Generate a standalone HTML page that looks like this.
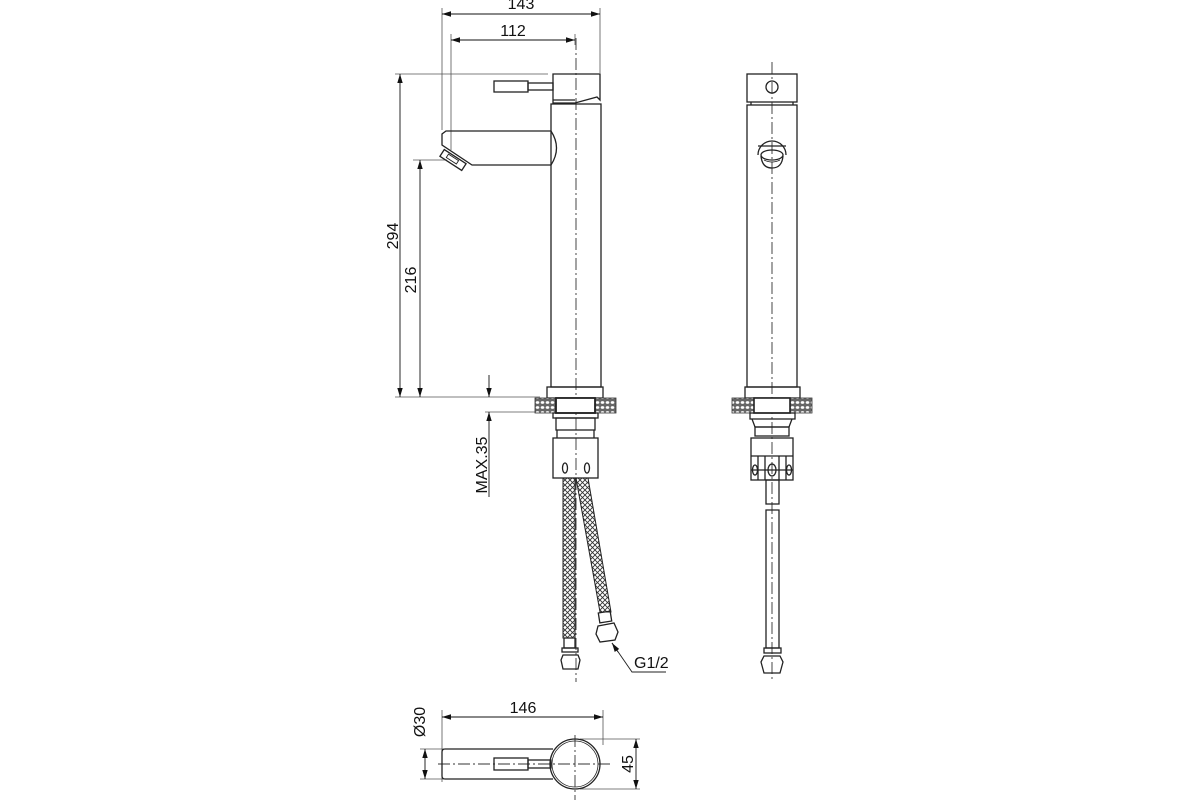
<!DOCTYPE html>
<html><head><meta charset="utf-8"><style>
html,body{margin:0;padding:0;background:#fff;width:1200px;height:800px;overflow:hidden}
svg{display:block}
text{font-family:"Liberation Sans",Arial,sans-serif;font-size:16px;fill:#111}
</style></head><body>
<svg width="1200" height="800" viewBox="0 0 1200 800" xmlns="http://www.w3.org/2000/svg">
<defs>
<marker id="a" viewBox="0 0 10 10" refX="10" refY="5" markerWidth="9" markerHeight="9" orient="auto-start-reverse" markerUnits="userSpaceOnUse"><path d="M0,2 L10,5 L0,8 Z" fill="#111"/></marker>
<pattern id="mesh" width="5" height="5" patternUnits="userSpaceOnUse"><path d="M0,0 L5,5 M5,0 L0,5" stroke="#333" stroke-width="0.9"/></pattern>
<pattern id="hatch" width="5" height="5" patternUnits="userSpaceOnUse"><rect width="5" height="5" fill="#666"/><ellipse cx="2.5" cy="2.5" rx="1.8" ry="1.4" fill="#fff"/></pattern>
</defs>
<g fill="none" stroke="#222" stroke-width="1.3">
<g stroke="#333" stroke-width="0.9" stroke-dasharray="12,3,2,3">
<line x1="576" y1="38" x2="576" y2="682"/>
<line x1="772" y1="62" x2="772" y2="682"/>
<line x1="438" y1="764" x2="612" y2="764"/>
<line x1="575" y1="735" x2="575" y2="800"/>
</g>
<g stroke="#555" stroke-width="0.8">
<line x1="442" y1="8" x2="442" y2="130"/><line x1="600" y1="8" x2="600" y2="73"/>
<line x1="451" y1="34" x2="451" y2="150"/><line x1="575" y1="34" x2="575" y2="45"/>
<line x1="395" y1="74" x2="548" y2="74"/><line x1="395" y1="397" x2="540" y2="397"/>
<line x1="413" y1="160" x2="447" y2="160"/>
<line x1="485" y1="412" x2="535" y2="412"/>
</g>
<g stroke="#111" stroke-width="0.9">
<line x1="442" y1="14" x2="600" y2="14" marker-start="url(#a)" marker-end="url(#a)"/>
<line x1="451" y1="40" x2="575" y2="40" marker-start="url(#a)" marker-end="url(#a)"/>
<line x1="400" y1="74" x2="400" y2="397" marker-start="url(#a)" marker-end="url(#a)"/>
<line x1="420" y1="160" x2="420" y2="397" marker-start="url(#a)" marker-end="url(#a)"/>
<line x1="489" y1="375" x2="489" y2="397" marker-end="url(#a)"/>
<line x1="489" y1="435" x2="489" y2="412" marker-end="url(#a)"/>
<line x1="489" y1="435" x2="489" y2="497"/>
</g>
<path d="M553,74 H600 V100 L597,97 L575,103 H553 Z"/>
<line x1="553" y1="100" x2="575" y2="100"/>
<rect x="494" y="81" width="34" height="11"/>
<rect x="528" y="83" width="25" height="7"/>
<rect x="551" y="104" width="50" height="283"/>
<path d="M551,131 H446 L442,134 V145 L472,165 H551"/>
<path d="M551,131 Q562,148 551,165"/>
<rect x="440" y="156" width="26" height="8" transform="rotate(33 453 160)"/>
<rect x="446" y="157.5" width="12" height="4" transform="rotate(33 453 160)" stroke-width="0.9"/>
<rect x="547" y="387" width="56" height="11"/>
<rect x="535" y="398" width="21" height="15" fill="url(#hatch)" stroke="#333" stroke-width="0.8"/>
<rect x="595" y="398" width="21" height="15" fill="url(#hatch)" stroke="#333" stroke-width="0.8"/>
<rect x="556" y="398" width="39" height="15" stroke-width="1.8" fill="#fff"/>
<rect x="553" y="413" width="45" height="5"/>
<rect x="556" y="418" width="39" height="12"/>
<path d="M557,430 V438 M594,430 V438"/>
<rect x="553" y="438" width="45" height="40"/>
<ellipse cx="565" cy="468" rx="2.5" ry="5"/><ellipse cx="587" cy="468" rx="2.5" ry="5"/>
<path d="M563,478 H575 V638 H563 Z" fill="url(#mesh)" stroke-width="1"/>
<path d="M576,478 H588 L611,612 H600 Z" fill="url(#mesh)" stroke-width="1"/>
<rect x="564" y="638" width="11" height="10"/>
<rect x="562" y="648" width="16" height="4"/>
<path d="M563,655 H578 L580,660 L578,669 H563 L561,660 Z"/>
<rect x="599" y="612" width="12" height="10" transform="rotate(-9 605 617)"/>
<path d="M598,626 L614,623 L618,632 L615,640 L600,642 L596,634 Z"/>
<path d="M612,643 L632,672 H666" stroke-width="0.9"/>
<line x1="618" y1="652" x2="612" y2="643" marker-end="url(#a)" stroke-width="0.9"/>
<rect x="747" y="74" width="50" height="28"/>
<circle cx="772" cy="87" r="6"/>
<line x1="751" y1="102" x2="751" y2="105"/><line x1="793" y1="102" x2="793" y2="105"/>
<rect x="747" y="105" width="50" height="282"/>
<path d="M758,155 A14,14 0 1 1 786,155"/>
<line x1="758" y1="146" x2="786" y2="146"/>
<ellipse cx="772" cy="155" rx="11" ry="5"/>
<path d="M761,156 Q762,168 772,168 Q782,168 783,156"/>
<path d="M764,160 Q772,164 780,160" stroke-width="0.9"/>
<rect x="745" y="387" width="55" height="11"/>
<rect x="732" y="398" width="22" height="15" fill="url(#hatch)" stroke="#333" stroke-width="0.8"/>
<rect x="790" y="398" width="22" height="15" fill="url(#hatch)" stroke="#333" stroke-width="0.8"/>
<rect x="754" y="398" width="36" height="15" stroke-width="1.6" fill="#fff"/>
<rect x="750" y="413" width="45" height="6"/>
<path d="M752,419 L755,427 H789 L792,419"/>
<rect x="755" y="427" width="34" height="9"/>
<rect x="751" y="438" width="42" height="42"/>
<path d="M751,456 H793 M758,456 V480 M765,456 V480 M779,456 V480 M786,456 V480"/>
<line x1="751" y1="470" x2="793" y2="470"/>
<ellipse cx="755" cy="470" rx="2.5" ry="5"/><ellipse cx="772" cy="470" rx="4" ry="6"/><ellipse cx="789" cy="470" rx="2.5" ry="5"/>
<rect x="766" y="480" width="13" height="24"/>
<path d="M766,510 H779 V648 H766 Z"/>
<rect x="764" y="648" width="17" height="5"/>
<path d="M764,656 H780 L783,662 L780,673 H764 L761,662 Z"/>
<g stroke="#555" stroke-width="0.8">
<line x1="442" y1="710" x2="442" y2="782"/><line x1="603" y1="710" x2="603" y2="745"/>
<line x1="420" y1="749" x2="444" y2="749"/><line x1="420" y1="779" x2="444" y2="779"/>
<line x1="580" y1="739" x2="640" y2="739"/><line x1="580" y1="789" x2="640" y2="789"/>
</g>
<g stroke="#111" stroke-width="0.9">
<line x1="442" y1="717" x2="603" y2="717" marker-start="url(#a)" marker-end="url(#a)"/>
<line x1="425" y1="749" x2="425" y2="779" marker-start="url(#a)" marker-end="url(#a)"/>
<line x1="636" y1="739" x2="636" y2="789" marker-start="url(#a)" marker-end="url(#a)"/>
</g>
<path d="M553,749 H445 Q442,749 442,752 V776 Q442,779 445,779 H553"/>
<circle cx="575" cy="764" r="25"/>
<circle cx="575" cy="764" r="23" stroke-width="0.8"/>
<rect x="494" y="758" width="34" height="12"/>
<rect x="528" y="760" width="23" height="8"/>
</g>
<text x="521" y="9" text-anchor="middle">143</text>
<text x="513" y="36" text-anchor="middle">112</text>
<text transform="translate(398,236) rotate(-90)" text-anchor="middle">294</text>
<text transform="translate(416,280) rotate(-90)" text-anchor="middle">216</text>
<text transform="translate(487,465) rotate(-90)" text-anchor="middle">MAX.35</text>
<text x="634" y="668">G1/2</text>
<text x="523" y="713" text-anchor="middle">146</text>
<text transform="translate(425,722) rotate(-90)" text-anchor="middle">Ø30</text>
<text transform="translate(633,764) rotate(-90)" text-anchor="middle">45</text>
</svg>
</body></html>
